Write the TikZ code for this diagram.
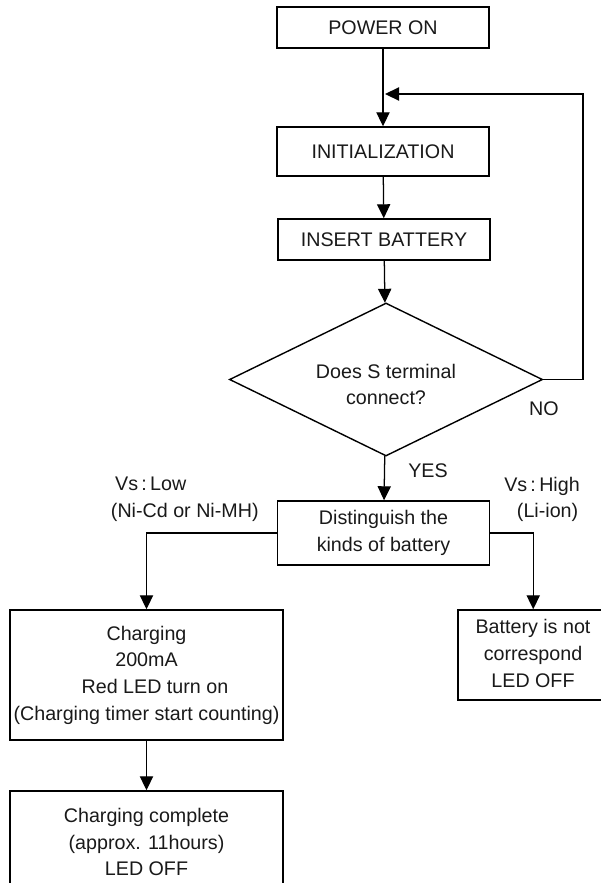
\documentclass[tikz,border=0pt]{standalone}
\usepackage{fontspec}
\setmainfont{Liberation Sans}
\usepackage{tikz}
\usetikzlibrary{arrows.meta,shapes.geometric,positioning}

\begin{document}
\begin{tikzpicture}
    [
      x=0.025cm, y=-0.025cm,
      every node/.style={font=\fontsize{14}{19}\selectfont, text=black!90},
      process/.style={rectangle,draw,line width=1pt,align=center,inner sep=0pt,minimum width=5.3cm},
      decision/.style={diamond,draw,line width=1pt,align=center,inner sep=0pt,aspect=2.05,minimum width=7.825cm,minimum height=3.825cm},
      post/.style={-{Triangle[length=3.5mm,width=3.3mm]},line width=0.9pt},
    ]

    \useasboundingbox (0,0) rectangle (600,883);

    \node (power-on) [process, minimum height=1.025cm] at (383,27.5) {POWER ON};

    \node (init) [process, minimum height=1.225cm] at (383,151.5) {INITIALIZATION};

    \node (insert-battery) [process, minimum height=1.025cm] at (384,239.5) {INSERT BATTERY};

    \node (s-terminal) [decision] at (386,379.5) {\\[-2pt]Does S terminal\\connect?};

    \node (distinguish) [process, minimum height=1.6cm] at (383.5,533) {Distinguish the\\kinds of battery};

    \node (charging) [process, minimum width=6.825cm, minimum height=3.25cm] at (146.5,675)
      {Charging\\200mA\\\hspace{12pt}Red LED turn on\\(Charging timer start counting)};

    \node (charge-done) [process, minimum width=6.825cm, minimum height=2.55cm] at (146.5,842)
      {Charging complete\\(approx. 11hours)\\LED OFF};

    % right side runs off the page
    \node (not-correspond) [process, minimum width=4.2cm, minimum height=2.25cm] at (542,655)
      {\begin{tabular}{@{}c@{\hspace{0.45cm}}}Battery is not\\correspond\\LED OFF\end{tabular}};

    \coordinate (merge) at (385,94);
    \coordinate (loop-corner) at (583,94);

    \path
    (power-on) edge [post] (init)
    (init) edge [post] (insert-battery)
    (insert-battery) edge [post] (s-terminal)
    (s-terminal) edge [post] (distinguish)
    (charging) edge [post] (charge-done)
    ;

    \draw [post] (s-terminal.east) -| (loop-corner) -- (merge);
    \draw [post] (distinguish.west) -| (charging.north);
    \draw [post] (distinguish.east) -- ++(43,0) coordinate (right-corner) -- (right-corner |- not-correspond.north);

    \node (no-label) at (544,409) {NO};
    \node (yes-label) at (428,471) {YES};
    \node (low-label) [anchor=west, align=left] at (106,499.5) {\hspace{3pt}Vs\,:\,Low\\(Ni-Cd or Ni-MH)};
    \node (high-label) [align=center] at (542,499.5) {Vs\,:\,High\\\hspace{8pt}(Li-ion)};

  \end{tikzpicture}
\end{document}
